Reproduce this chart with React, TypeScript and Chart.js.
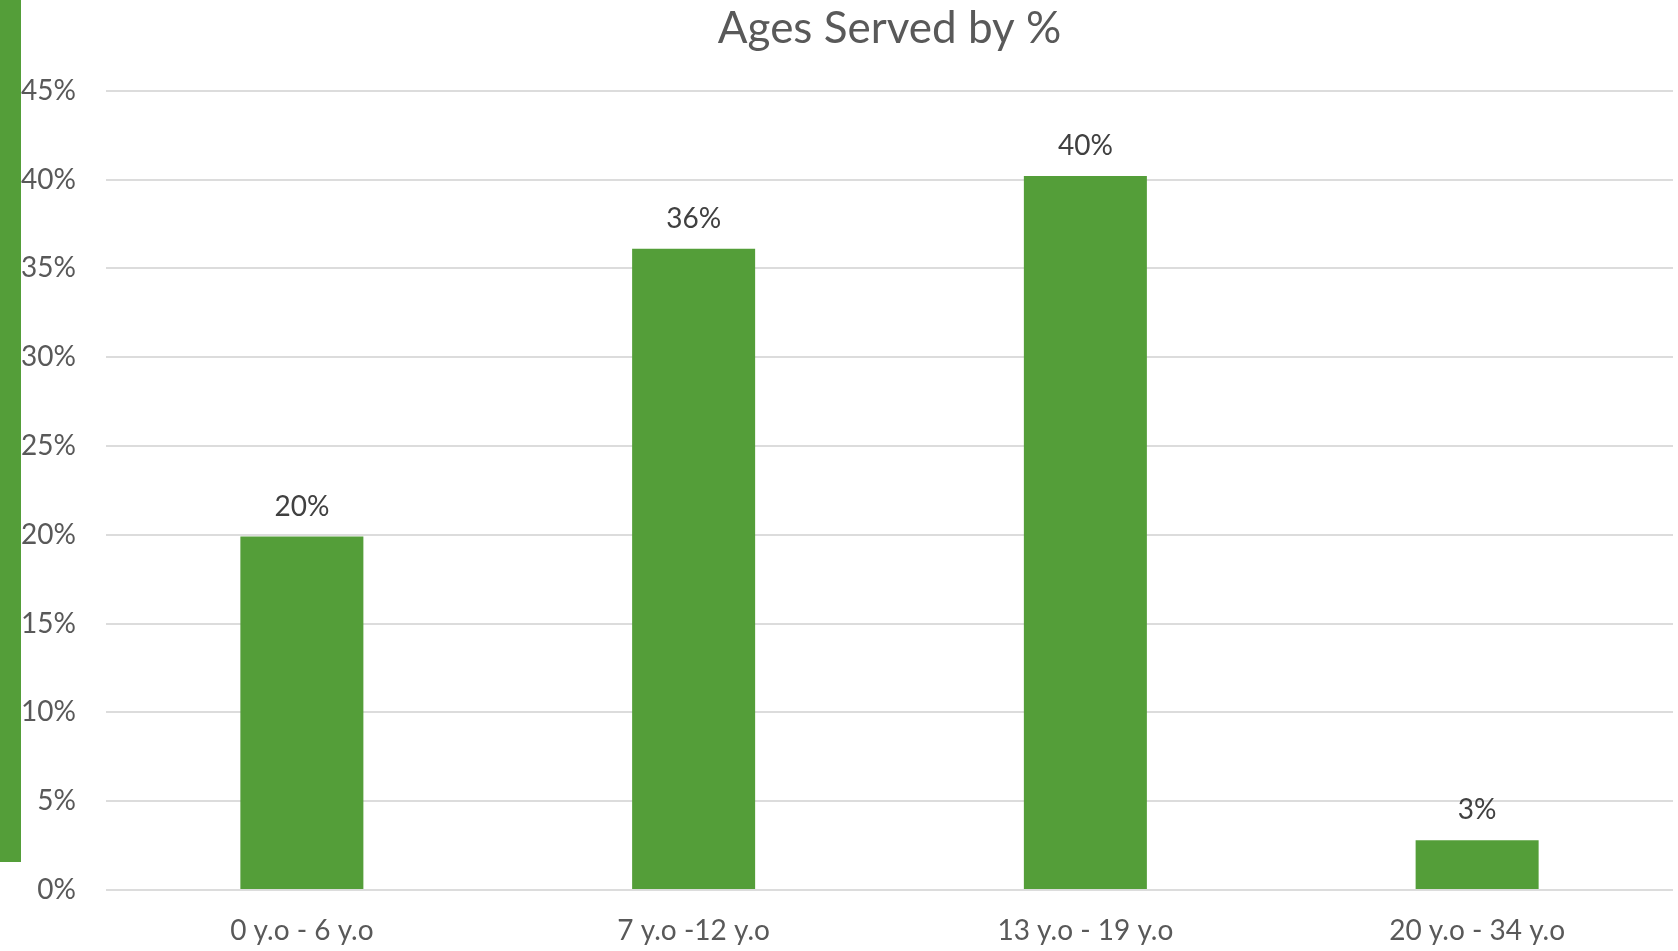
import React, { useEffect, useRef } from "react";
import { Chart, registerables } from "chart.js";

Chart.register(...registerables);

const categories = ["0 y.o - 6 y.o", "7 y.o -12 y.o", "13 y.o - 19 y.o", "20 y.o - 34 y.o"];
const percentServed = [19.9, 36.1, 40.2, 2.8];
const yTickMax = 45;
const yTickStep = 5;
const title = "Ages Served by %";

const GREEN = "#549E39";
const FONT = "Lato, 'Open Sans', sans-serif";

const dataLabelPlugin = {
  id: "dataLabels",
  afterDatasetsDraw(chart: any) {
    const ctx = chart.ctx;
    const meta = chart.getDatasetMeta(0);
    ctx.save();
    ctx.fillStyle = "#404040";
    ctx.font = `28px ${FONT}`;
    ctx.textAlign = "center";
    ctx.textBaseline = "middle";
    meta.data.forEach((bar: any, i: number) => {
      const v = chart.data.datasets[0].data[i] as number;
      ctx.fillText(`${Math.round(v)}%`, bar.x, bar.y - 30);
    });
    ctx.restore();
  },
};

export default function App() {
  const ref = useRef<HTMLCanvasElement | null>(null);
  useEffect(() => {
    if (!ref.current) return;
    const chart = new Chart(ref.current, {
      type: "bar",
      data: {
        labels: categories,
        datasets: [
          {
            data: percentServed,
            backgroundColor: GREEN,
            categoryPercentage: 1,
            barPercentage: 0.314,
          },
        ],
      },
      options: {
        animation: false,
        responsive: false,
        maintainAspectRatio: false,
        layout: { padding: { left: 0, right: 5, top: 0, bottom: 0 } },
        plugins: {
          legend: { display: false },
          tooltip: { enabled: false },
          title: {
            display: true,
            fullSize: false,
            text: title,
            color: "#595959",
            font: { family: FONT, size: 44, weight: "normal" },
            padding: { top: 2, bottom: 36 },
          },
        },
        scales: {
          x: {
            grid: { display: false, drawTicks: false },
            border: { display: false },
            ticks: {
              color: "#595959",
              font: { family: FONT, size: 28 },
              padding: 24,
              maxRotation: 0,
            },
            afterFit(scale: any) {
              scale.height = 61;
            },
          },
          y: {
            min: 0,
            max: yTickMax,
            grid: { color: "#DCDCDC", lineWidth: 2, drawTicks: false },
            border: { display: false },
            ticks: {
              stepSize: yTickStep,
              color: "#595959",
              font: { family: FONT, size: 28 },
              padding: 30,
              callback: (v: any) => `${v}%`,
            },
            afterFit(scale: any) {
              scale.width = 106;
            },
          },
        },
      },
      plugins: [dataLabelPlugin],
    });
    return () => chart.destroy();
  }, []);

  return (
    <div style={{ position: "absolute", left: 0, top: 0, width: 1678, height: 951, background: "#fff" }}>
      <canvas ref={ref} width={1678} height={951} style={{ position: "absolute", left: 0, top: 0 }} />
      <div style={{ position: "absolute", left: 0, top: 0, width: 21, height: 862, background: GREEN }} />
    </div>
  );
}
